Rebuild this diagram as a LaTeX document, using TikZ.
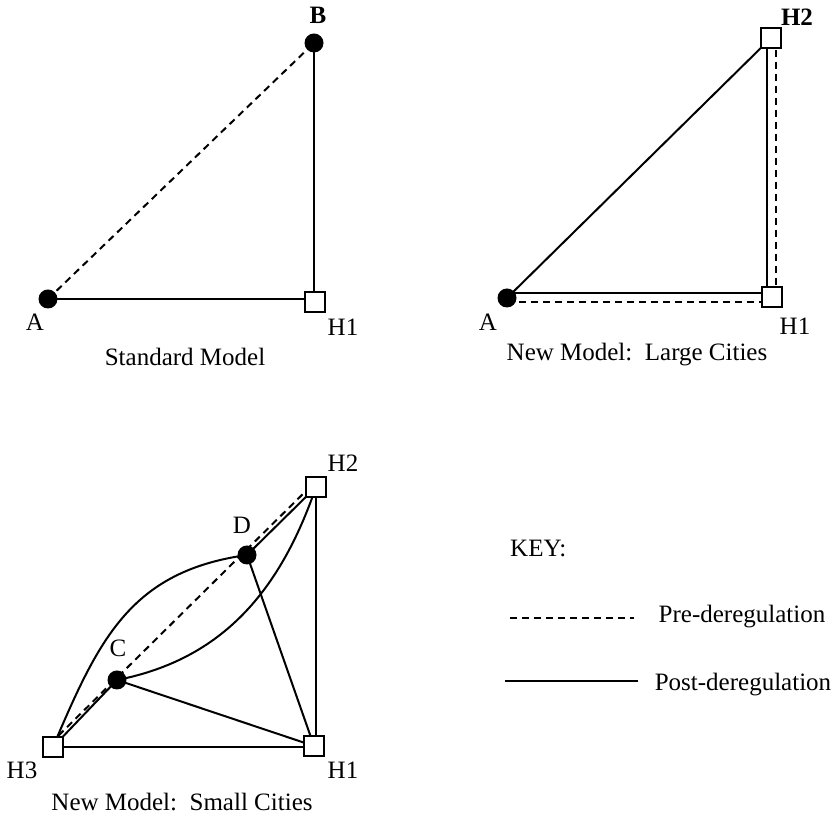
\documentclass[tikz,border=0pt]{standalone}
\usepackage{fontspec}
\setmainfont{Liberation Serif}
\usetikzlibrary{shapes, arrows, positioning, backgrounds}

\begin{document}
\begin{tikzpicture}[x=1pt,y=1pt]
            \tikzset{city/.style = {circle, fill=black, inner sep=0pt, minimum size=19pt},
                     hub/.style = {rectangle, draw, line width=1.6pt, fill=white, inner sep=0pt, minimum size=20.5pt},
                     lbl/.style = {font=\fontsize{25}{28}\selectfont, inner sep=0pt},
                     pre/.style = {line width=2pt, dash pattern=on 7pt off 5pt},
                     post/.style = {line width=2pt}}
            \useasboundingbox (0,0) rectangle (836,816);
            % vertices: standard model
            \node[city] (sa) at (48,517) {};
            \node[city] (sb) at (314,773) {};
            \node[hub] (sh1) at (315,514) {};
            \node[lbl] (sat) at (35,494) {A};
            \node[lbl] (sbt) at (318,801) {\textbf{B}};
            \node[lbl] (sh1t) at (343,489) {H1};
            \node[lbl] (stitle) at (185,459) {Standard Model};
            % vertices: large cities
            \node[city] (la) at (507,518) {};
            \node[hub] (lh2) at (771,778) {};
            \node[hub] (lh1) at (772,519) {};
            \node[lbl] (lat) at (488,494) {A};
            \node[lbl] (lh2t) at (797,799) {\textbf{H2}};
            \node[lbl] (lh1t) at (795,490) {H1};
            \node[lbl] (ltitle) at (637,461) {New Model:\ \ Large Cities};
            % vertices: small cities
            \node[hub] (mh3) at (53,69) {};
            \node[hub] (mh1) at (314,70) {};
            \node[hub] (mh2) at (316,329) {};
            \node[city] (mc) at (117,136) {};
            \node[city] (md) at (247,261) {};
            \node[lbl] (mh3t) at (22,46) {H3};
            \node[lbl] (mh1t) at (343,46) {H1};
            \node[lbl] (mh2t) at (343,353) {H2};
            \node[lbl] (mct) at (118,168) {C};
            \node[lbl] (mdt) at (242,291) {D};
            \node[lbl] (mtitle) at (182,14) {New Model:\ \ Small Cities};
            % key
            \node[lbl, anchor=west] (key) at (510,268) {KEY:};
            \coordinate (pre1) at (510,198);
            \coordinate (pre2) at (634,198);
            \coordinate (post1) at (505,135);
            \coordinate (post2) at (638,135);
            \node[lbl] (pret) at (742,199) {Pre-deregulation};
            \node[lbl] (postt) at (743,131) {Post-deregulation};
            %edges
            \begin{pgfonlayer}{background}
            \draw[pre] (sa.center) to (sb.center);
            \draw[post] (sa.center) to (sa.center -| sh1.center);
            \draw[post] (sb.center) to (sb.center |- sh1.center);
            \draw[post] (la.center) to (lh2.center);
            \draw[post] ([yshift=5pt]la.center) to ([yshift=5pt]la.center -| lh1.center);
            \draw[pre] ([yshift=-4pt]la.center) to ([yshift=-4pt]la.center -| lh1.center);
            \draw[post] ([xshift=-4pt]lh2.center) to ([xshift=-4pt]lh2.center |- lh1.center);
            \draw[pre] ([xshift=5pt]lh2.center) to ([xshift=5pt]lh2.center |- lh1.center);
            \draw[pre] ([shift={(-3pt,3pt)}]mh3.center) to ([shift={(-3pt,3pt)}]mh2.center);
            \draw[post] (mh3.center) to (mc.center);
            \draw[post] (md.center) to (mh2.center);
            \draw[post] (mh3.center) to[out=67, in=188, looseness=1.1] (md.center);
            \draw[post] (mc.center) to[out=11, in=251, looseness=1] (mh2.center);
            \draw[post] (mc.center) to (mh1.center);
            \draw[post] (md.center) to (mh1.center);
            \draw[post] (mh2.center) to (mh2.center |- mh1.center);
            \draw[post] (mh3.center -| mh3.east) to (mh3.center -| mh1.center);
            \end{pgfonlayer}
            \draw[pre] (pre1) to (pre2);
            \draw[post] (post1) to (post2);
        \end{tikzpicture}
\end{document}
